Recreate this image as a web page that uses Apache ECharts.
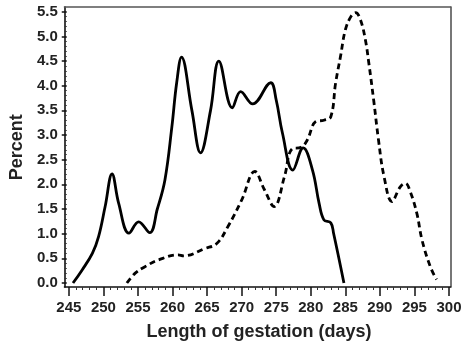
<!DOCTYPE html>
<html>
<head>
<meta charset="utf-8">
<script src="https://cdn.jsdelivr.net/npm/echarts@6/dist/echarts.min.js"></script>
<style>
  html, body { margin: 0; padding: 0; background: #fff; }
  #chart { width: 467px; height: 352px; }
</style>
</head>
<body>
<div id="chart"></div>
<script>
// solid curve: [days, percent]
var solidData = [
  [245.6, 0], [246.9, 0.26], [248.4, 0.6], [249.3, 0.94], [250.25, 1.55],
  [251.25, 2.21], [252.2, 1.62], [253.7, 1.01], [255.1, 1.24], [256.7, 1.02],
  [257.8, 1.5], [258.9, 2.09], [259.9, 3.16], [260.6, 4.06], [261.3, 4.58],
  [262.8, 3.5], [264.05, 2.64], [265.5, 3.5], [266.7, 4.5], [268.65, 3.55],
  [269.85, 3.88], [271.6, 3.63], [274.2, 4.06], [275.0, 3.71], [275.9, 3.04],
  [277.4, 2.29], [278.9, 2.74], [280.25, 2.29], [281.2, 1.62], [281.9, 1.28],
  [282.9, 1.22], [283.3, 1.01], [284.8, 0]
];
// dashed curve: [days, percent]
var dashedData = [
  [253.4, 0], [254.6, 0.2], [256.0, 0.33], [258.0, 0.47], [260.8, 0.57],
  [261.6, 0.55], [264.7, 0.7], [266.4, 0.8], [268.0, 1.14], [270.0, 1.68],
  [271.9, 2.26], [273.3, 1.89], [274.7, 1.55], [276.2, 2.16], [277.3, 2.72],
  [278.6, 2.75], [279.5, 2.9], [280.7, 3.27], [281.9, 3.3], [282.9, 3.37],
  [283.6, 4.06], [284.3, 4.59], [285.0, 5.13], [285.8, 5.4], [286.5, 5.48],
  [287.2, 5.33], [287.9, 4.93], [288.4, 4.46], [289.1, 3.71], [289.8, 2.9],
  [290.6, 2.16], [291.75, 1.65], [292.95, 1.95], [293.7, 2.02], [294.4, 1.85],
  [295.35, 1.41], [296.1, 0.87], [297.3, 0.33], [298.2, 0.07]
];
// axis tick range: [min, max, step]
var xTickRange = [245, 300, 5];
var yTickRange = [0, 5.5, 0.5];

var chart = echarts.init(document.getElementById('chart'));
var font = 'Liberation Sans';

function frameAxis(pos, color) {
  return {
    gridIndex: 0, type: 'value', position: pos, min: 0, max: 1,
    axisLine: { show: true, onZero: false, lineStyle: { color: color, width: 1.6 } },
    axisTick: { show: false }, axisLabel: { show: false }, splitLine: { show: false }
  };
}

var option = {
  animation: false,
  grid: [
    // frame box
    { left: 64.5, right: 16.5, top: 7, bottom: 65 },
    // data area (ticks and labels pushed outside the frame via offset)
    { left: 66.6, right: 18, top: 11.7, bottom: 69 }
  ],
  xAxis: [
    frameAxis('bottom', '#111'),
    frameAxis('top', '#555'),
    {
      gridIndex: 1, type: 'value', position: 'bottom', offset: 4,
      min: xTickRange[0], max: xTickRange[1], interval: xTickRange[2],
      name: 'Length of gestation (days)', nameLocation: 'middle', nameGap: 36,
      nameTextStyle: { color: '#222', fontSize: 18, fontWeight: 'bold', fontFamily: font },
      axisLine: { show: true, onZero: false, lineStyle: { color: 'rgba(0,0,0,0)', width: 1 } },
      axisTick: { show: true, inside: false, length: 9, lineStyle: { color: '#111', width: 1.5 } },
      minorTick: { show: true, splitNumber: 5, length: 3, lineStyle: { color: '#333', width: 1 } },
      axisLabel: { show: true, margin: 13, color: '#222', fontSize: 15, fontWeight: 'bold', fontFamily: font },
      splitLine: { show: false }
    }
  ],
  yAxis: [
    frameAxis('left', '#111'),
    frameAxis('right', '#555'),
    {
      gridIndex: 1, type: 'value', position: 'left', offset: 2.1,
      min: yTickRange[0], max: yTickRange[1], interval: yTickRange[2],
      name: 'Percent', nameLocation: 'middle', nameGap: 40,
      nameTextStyle: { color: '#222', fontSize: 18, fontWeight: 'bold', fontFamily: font },
      axisLine: { show: true, onZero: false, lineStyle: { color: 'rgba(0,0,0,0)', width: 1 } },
      axisTick: { show: true, inside: false, length: 5, lineStyle: { color: '#111', width: 1.5 } },
      minorTick: { show: true, splitNumber: 5, length: 2, lineStyle: { color: '#333', width: 1 } },
      axisLabel: {
        show: true, margin: 9, color: '#222', fontSize: 15, fontWeight: 'bold', fontFamily: font,
        formatter: function (v) { return v.toFixed(1); }
      },
      splitLine: { show: false }
    }
  ],
  series: [
    {
      type: 'line', xAxisIndex: 2, yAxisIndex: 2, data: solidData,
      smooth: 0.4, showSymbol: false, symbol: 'none',
      lineStyle: { color: '#000', width: 2.8, type: 'solid' }
    },
    {
      type: 'line', xAxisIndex: 2, yAxisIndex: 2, data: dashedData,
      smooth: 0.4, showSymbol: false, symbol: 'none',
      lineStyle: { color: '#000', width: 2.8, type: [6, 4] }
    }
  ]
};
chart.setOption(option);
</script>
</body>
</html>
